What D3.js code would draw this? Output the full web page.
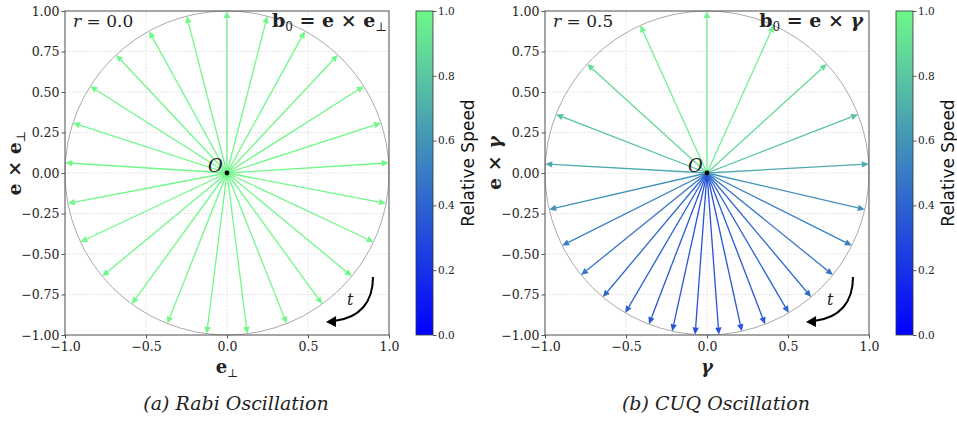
<!DOCTYPE html>
<html>
<head>
<meta charset="utf-8">
<script src="https://cdn.jsdelivr.net/npm/d3@7"></script>
<style>
  body { margin: 0; background: #fff; }
  svg { display: block; }
  text { font-family: "DejaVu Serif", serif; fill: #222; }
</style>
</head>
<body>
<svg id="chart" width="957" height="422"></svg>
<script>
// tick values
const xTicks = [-1, -0.5, 0, 0.5, 1];
const yTicks = [-1, -0.75, -0.5, -0.25, 0, 0.25, 0.5, 0.75, 1];
const cbTicks = [0, 0.2, 0.4, 0.6, 0.8, 1];

// (a) Rabi: arrow angles in degrees, relative speed
const rabiAngles = [90, 104.4, 118.8, 133.2, 147.6, 162, 176.4, 190.8, 205.2, 219.6, 234, 248.4, 262.8,
                    277.2, 291.6, 306, 320.4, 334.8, 349.2, 3.6, 18, 32.4, 46.8, 61.2, 75.6];
const rabiSpeeds = [1, 1, 1, 1, 1, 1, 1, 1, 1, 1, 1, 1, 1, 1, 1, 1, 1, 1, 1, 1, 1, 1, 1, 1, 1];

// (b) CUQ, r = 0.5
const cuqAngles = [90, 114.3, 137.7, 158.8, 176.8, 193, 206.6, 219, 230, 239.7, 249, 257.6, 265.8,
                   274.2, 282.4, 291, 300.3, 310, 321, 333.4, 347, 3.2, 21.2, 42.3, 65.7];
const cuqSpeeds = [1, 0.97, 0.88, 0.78, 0.68, 0.59, 0.52, 0.47, 0.42, 0.39, 0.36, 0.345, 0.335,
                   0.335, 0.345, 0.36, 0.39, 0.42, 0.47, 0.52, 0.59, 0.68, 0.78, 0.88, 0.97];

const svg = d3.select('#chart');
svg.append('rect').attr('width', 957).attr('height', 422).attr('fill', '#fff');

const cmap = d3.interpolateRgb('#0000ff', '#70f888');
const serif = '"DejaVu Serif", serif';

const defs = svg.append('defs');
const grad = defs.append('linearGradient').attr('id', 'cbgrad')
  .attr('x1', 0).attr('y1', 1).attr('x2', 0).attr('y2', 0);
d3.range(0, 1.0001, 0.1).forEach(t => {
  grad.append('stop').attr('offset', t).attr('stop-color', cmap(t));
});

function panel(dx, angles, speeds, opts) {
  const x = d3.scaleLinear().domain([-1, 1]).range([65 + dx, 389 + dx]);
  const y = d3.scaleLinear().domain([-1, 1]).range([335, 11]);
  const g = svg.append('g');

  // grid
  g.append('g').selectAll('line').data(xTicks).enter().append('line')
    .attr('x1', d => x(d)).attr('x2', d => x(d)).attr('y1', y(-1)).attr('y2', y(1))
    .attr('stroke', '#dcdcdc').attr('stroke-width', 0.8).attr('stroke-dasharray', '2,1.5');
  g.append('g').selectAll('line').data(yTicks).enter().append('line')
    .attr('y1', d => y(d)).attr('y2', d => y(d)).attr('x1', x(-1)).attr('x2', x(1))
    .attr('stroke', '#dcdcdc').attr('stroke-width', 0.8).attr('stroke-dasharray', '2,1.5');

  // unit circle
  g.append('circle').attr('cx', x(0)).attr('cy', y(0)).attr('r', x(1) - x(0))
    .attr('fill', 'none').attr('stroke', '#aaa').attr('stroke-width', 1);

  // arrows
  const hl = 7, hw = 3.2;
  const arrows = g.append('g').selectAll('g').data(angles.map((a, i) => ({a: a, s: speeds[i]})))
    .enter().append('g');
  arrows.each(function(d) {
    const r = d.a * Math.PI / 180;
    const tx = x(Math.cos(r)), ty = y(Math.sin(r));
    const ux = Math.cos(r), uy = -Math.sin(r);
    const bx = tx - hl * ux, by = ty - hl * uy;
    const nx = -uy, ny = ux;
    const sel = d3.select(this);
    sel.append('line')
      .attr('x1', x(0)).attr('y1', y(0)).attr('x2', bx).attr('y2', by)
      .attr('stroke', cmap(d.s)).attr('stroke-width', 1.3);
    sel.append('polygon')
      .attr('points', [[tx, ty], [bx + hw * nx, by + hw * ny], [bx - hw * nx, by - hw * ny]].join(' '))
      .attr('fill', cmap(d.s));
  });

  g.append('circle').attr('cx', x(0)).attr('cy', y(0)).attr('r', 2.4).attr('fill', '#000');
  g.append('text').attr('x', x(0) - 19).attr('y', y(0) - 1)
    .attr('font-size', 18).attr('font-style', 'italic').text('O');

  // frame
  g.append('rect').attr('x', x(-1)).attr('y', y(1)).attr('width', x(1) - x(-1)).attr('height', y(-1) - y(1))
    .attr('fill', 'none').attr('stroke', '#555').attr('stroke-width', 1);

  // axes
  const xa = g.append('g').attr('transform', 'translate(0,' + y(-1) + ')')
    .call(d3.axisBottom(x).tickValues(xTicks).tickFormat(d3.format('.1f')).tickSize(3.5).tickPadding(4));
  const ya = g.append('g').attr('transform', 'translate(' + x(-1) + ',0)')
    .call(d3.axisLeft(y).tickValues(yTicks).tickFormat(d3.format('.2f')).tickSize(3.5).tickPadding(2));
  [xa, ya].forEach(a => {
    a.attr('font-family', null);
    a.select('.domain').remove();
    a.selectAll('line').attr('stroke', '#555');
    a.selectAll('text').attr('font-size', 12.5).attr('fill', '#222').style('font-family', serif);
  });

  // in-plot labels
  const rt = g.append('text').attr('x', x(-1) + 8).attr('y', 27).attr('font-size', 17);
  rt.append('tspan').attr('font-style', 'italic').text('r');
  rt.append('tspan').text(' = ' + opts.r);

  const bt = g.append('text').attr('x', opts.bEnd + dx).attr('y', 27)
    .attr('font-size', 19).attr('text-anchor', 'end').attr('font-weight', 'bold');
  bt.append('tspan').text('b');
  bt.append('tspan').attr('font-size', 12).attr('font-weight', 'normal').attr('dy', 4).text('0');
  bt.append('tspan').attr('dy', -4).text(' = e × ');
  opts.vec(bt);

  // axis labels
  const yl = g.append('text').attr('transform', 'translate(' + (21 + dx) + ',' + (y(0) - 10) + ') rotate(-90)')
    .attr('text-anchor', 'middle').attr('font-size', 19).attr('font-weight', 'bold');
  yl.append('tspan').text('e × ');
  opts.vec(yl);
  const xl = g.append('text').attr('x', x(0)).attr('y', 373)
    .attr('text-anchor', 'middle').attr('font-size', 18).attr('font-weight', 'bold');
  opts.vec(xl);

  // time arrow
  g.append('path').attr('d', `M${373 + dx},277 C${373 + dx},302 ${360 + dx},318 ${334 + dx},321`)
    .attr('fill', 'none').attr('stroke', '#000').attr('stroke-width', 2);
  g.append('polygon')
    .attr('points', [[326 + dx, 322], [336 + dx, 316], [336 + dx, 327]].join(' ')).attr('fill', '#000');
  g.append('text').attr('x', 347 + dx).attr('y', 305).attr('font-size', 16).attr('font-style', 'italic').text('t');

  // colorbar
  const cbx = 416 + dx, cbw = 17;
  const cy = d3.scaleLinear().domain([0, 1]).range([335, 11]);
  g.append('rect').attr('x', cbx).attr('y', cy(1)).attr('width', cbw).attr('height', cy(0) - cy(1))
    .attr('fill', 'url(#cbgrad)').attr('stroke', '#333').attr('stroke-width', 0.8);
  const ca = g.append('g').attr('transform', 'translate(' + (cbx + cbw) + ',0)')
    .call(d3.axisRight(cy).tickValues(cbTicks).tickFormat(d3.format('.1f')).tickSize(3.5).tickPadding(1.5));
  ca.attr('font-family', null);
  ca.select('.domain').remove();
  ca.selectAll('line').attr('stroke', '#555');
  ca.selectAll('text').attr('font-size', 10.5).attr('fill', '#444').style('font-family', serif);
  g.append('text').attr('transform', 'translate(' + (474 + dx) + ',' + 163 + ') rotate(-90)')
    .attr('text-anchor', 'middle').attr('font-size', 17)
    .style('font-family', '"DejaVu Sans", sans-serif').style('fill', '#111')
    .text('Relative Speed');

  // caption
  g.append('text').attr('x', 236 + dx).attr('y', 410).attr('text-anchor', 'middle')
    .attr('font-size', 19).attr('font-style', 'italic').text(opts.caption);
}

panel(0, rabiAngles, rabiSpeeds, {
  r: '0.0', bEnd: 387, caption: '(a) Rabi Oscillation',
  vec: t => {
    t.append('tspan').text('e');
    t.append('tspan').attr('font-size', '0.65em').attr('font-weight', 'normal').attr('dy', 4).text('⊥');
    t.append('tspan').attr('dy', -4).text('');
  }
});
panel(480, cuqAngles, cuqSpeeds, {
  r: '0.5', bEnd: 383, caption: '(b) CUQ Oscillation',
  vec: t => { t.append('tspan').attr('font-style', 'italic').text('γ'); }
});
</script>
</body>
</html>
